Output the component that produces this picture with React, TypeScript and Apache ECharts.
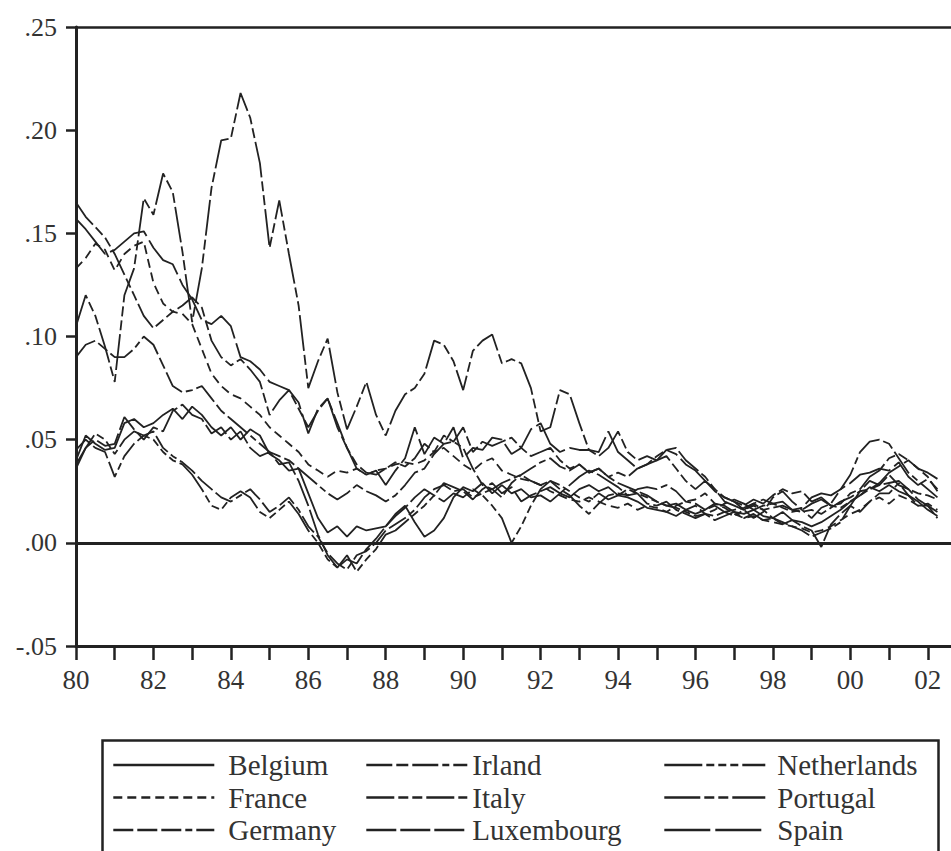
import React, { useEffect, useRef } from "react";
import * as echarts from "echarts";

// quarterly values, percent, 1980Q1 .. 2002Q2
const startYear = 1980;
const countries = ["Belgium", "France", "Germany", "Irland", "Italy", "Luxembourg", "Netherlands", "Portugal", "Spain"];

const belgium = [
  4.0, 5.2, 4.8, 4.5, 4.6, 5.8, 6.0, 5.6, 5.8, 6.2, 6.5, 6.0, 6.6, 6.2, 5.6, 5.2,
  5.6, 5.0, 5.5, 5.2, 4.3, 4.0, 3.5, 3.6, 2.4, 1.2, 0.5, 0.8, 0.3, 0.8, 0.6, 0.7,
  0.8, 1.4, 1.8, 1.0, 0.3, 0.6, 1.2, 2.2, 2.7, 2.5, 2.9, 2.4, 2.8, 2.4, 2.6, 2.2,
  2.3, 2.0, 2.4, 2.2, 2.6, 2.8, 2.5, 2.7, 2.3, 2.2, 2.0, 1.7, 1.6, 1.5, 1.3, 1.6,
  1.4, 1.6, 1.9, 1.8, 1.5, 1.4, 1.6, 1.3, 1.2, 1.5, 1.1, 1.0, 0.8, 1.0, 1.3, 1.6,
  2.0, 2.3, 2.7, 2.5, 2.8, 2.5, 2.3, 2.0, 1.6, 1.3,
];
const france = [
  13.3, 13.8, 14.5, 14.2, 13.2, 14.0, 14.4, 14.6, 12.6, 11.6, 11.2, 11.1, 10.6, 9.4, 8.2, 7.6,
  7.2, 7.0, 6.6, 6.2, 5.6, 5.2, 4.8, 4.4, 3.8, 3.5, 3.2, 3.5, 3.4, 3.6, 3.3, 3.5,
  3.6, 3.8, 3.9, 3.8, 4.0, 4.4, 4.6, 4.2, 3.8, 3.5, 3.9, 4.1, 3.5, 3.3, 3.1, 3.0,
  2.8, 2.5, 2.3, 2.1, 2.0, 2.2, 2.0, 1.8, 1.7, 1.9, 1.6, 1.8, 1.7, 1.5, 1.8, 2.0,
  2.1, 2.4, 1.9, 1.7, 1.4, 1.2, 1.3, 1.1, 1.0, 0.9, 0.8, 0.7, 0.5, 0.6, 0.8, 1.1,
  1.4, 1.6, 2.0, 2.2, 1.9, 2.3, 2.1, 1.8, 1.9, 1.6,
];
const germany = [
  4.5, 5.0, 4.6, 4.4, 3.2, 4.2, 4.8, 5.2, 5.4, 4.6, 4.2, 3.9, 3.5, 3.0, 2.6, 2.2,
  2.0, 2.3, 2.6, 2.1, 1.5, 1.8, 2.2, 1.6, 0.8, 0.3, -0.5, -1.0, -1.3, -0.6, -0.4, 0.0,
  0.6, 0.9, 1.2, 1.6, 2.2, 2.6, 2.8, 2.5, 2.6, 2.2, 2.4, 2.6, 2.2, 2.9, 3.3, 3.6,
  3.9, 4.1, 3.7, 3.5, 3.8, 3.4, 3.6, 3.2, 2.9, 2.7, 2.5, 2.3, 2.0, 1.8, 1.7, 1.5,
  1.3, 1.4, 1.3, 1.5, 1.6, 1.7, 1.9, 1.6, 1.2, 1.0, 0.8, 0.6, 0.3, 0.5, 0.7, 1.0,
  1.8, 1.5, 2.0, 2.4, 2.4, 2.9, 2.3, 1.8, 1.8, 1.2,
];
const irland = [
  9.0, 9.6, 9.8, 9.4, 9.0, 9.0, 9.4, 10.0, 9.6, 8.6, 7.6, 7.3, 7.4, 7.6, 7.0, 6.4,
  6.0, 5.6, 5.2, 4.8, 4.4, 4.2, 4.0, 3.6, 3.2, 2.8, 2.4, 2.1, 2.4, 2.8, 2.5, 2.3,
  2.0, 2.3, 2.8, 3.4, 3.6, 4.3, 4.8, 4.9, 4.6, 3.6, 2.8, 2.6, 2.9, 3.1, 3.3, 3.0,
  2.8, 3.0, 2.6, 2.3, 1.8, 1.4, 1.9, 2.3, 2.4, 2.3, 2.6, 2.7, 2.6, 2.8, 2.5, 2.0,
  1.9, 1.6, 1.8, 1.5, 1.3, 1.6, 1.2, 1.5, 2.2, 2.5, 2.0, 1.6, 1.2, 1.7, 1.9, 2.6,
  3.3, 4.4, 4.9, 5.0, 4.8, 4.1, 3.4, 3.0, 2.6, 2.2,
];
const italy = [
  16.5, 15.8, 15.3, 14.8, 14.0, 13.0, 12.0, 11.0, 10.4, 10.8, 11.2, 11.5, 11.9, 11.4, 9.8, 9.0,
  8.6, 8.9, 8.4, 7.8, 6.2, 6.9, 7.4, 6.5, 5.6, 6.4, 7.0, 5.8, 4.6, 3.8, 3.4, 3.3,
  3.6, 3.9, 3.7, 4.1, 4.8, 4.4, 5.2, 4.9, 5.6, 4.4, 4.9, 4.7, 4.9, 5.1, 4.6, 4.2,
  4.4, 4.6, 4.0, 3.6, 3.8, 3.4, 3.6, 3.2, 3.4, 3.2, 3.6, 3.8, 4.2, 4.5, 4.6, 4.0,
  3.6, 3.2, 2.6, 2.2, 2.0, 1.6, 1.8, 1.6, 1.7, 1.8, 1.6, 1.5, 1.6, 1.4, 1.7, 2.0,
  2.2, 2.5, 2.6, 2.8, 2.9, 3.0, 2.6, 2.4, 2.3, 2.1,
];
const luxembourg = [
  3.8, 4.6, 5.0, 4.7, 4.8, 6.1, 5.5, 5.0, 5.6, 5.4, 6.4, 6.7, 6.2, 6.0, 5.3, 5.6,
  5.0, 5.4, 4.6, 4.2, 4.4, 3.8, 3.9, 3.0, 1.8, 0.4, -0.6, -1.2, -0.8, -1.0, -0.3, 0.2,
  0.8, 1.3, 1.7, 2.2, 2.6, 2.3, 2.9, 2.7, 2.5, 2.1, 2.6, 2.9, 2.4, 2.7, 2.0, 2.3,
  2.5, 2.7, 2.4, 2.8, 3.2, 3.5, 3.3, 3.0, 2.7, 2.3, 2.4, 1.9, 1.8, 2.0, 1.6, 1.4,
  1.2, 1.4, 1.1, 1.3, 1.5, 1.2, 1.4, 1.1, 1.2, 0.9, 1.1, 0.8, 0.6, -0.2, 0.9, 1.4,
  1.8, 2.5, 3.0, 2.8, 3.3, 2.8, 2.6, 2.1, 1.8, 1.5,
];
const netherlands = [
  3.6, 4.6, 5.3, 5.0, 4.3, 5.0, 5.4, 5.2, 5.0, 4.4, 4.0, 3.8, 3.3, 2.6, 1.8, 1.6,
  2.2, 2.5, 2.2, 1.5, 1.2, 1.6, 2.0, 1.4, 0.6, 0.0, -0.8, -1.2, -0.6, -1.4, -0.8, -0.3,
  0.4, 0.6, 1.0, 1.4, 1.8, 2.3, 2.0, 2.4, 2.2, 2.6, 2.3, 1.8, 1.2, 0.0, 0.8, 1.8,
  2.6, 3.0, 2.8, 2.5, 2.2, 2.0, 2.4, 2.1, 2.3, 2.6, 2.4, 2.2, 2.0, 1.8, 1.9, 1.6,
  1.8, 1.4, 1.6, 1.9, 2.1, 1.9, 1.6, 1.8, 1.9, 1.7, 1.5, 1.6, 1.9, 2.1, 1.8, 1.7,
  2.0, 2.3, 2.6, 2.9, 3.4, 3.7, 4.0, 3.6, 3.2, 2.5,
];
const portugal = [
  10.5, 12.0, 11.0, 9.5, 7.8, 12.0, 13.3, 16.7, 15.9, 17.9, 17.0, 14.1, 10.7, 13.3, 17.2, 19.5,
  19.6, 21.8, 20.6, 18.4, 14.3, 16.6, 14.0, 11.5, 7.5, 8.8, 9.9, 7.3, 5.5, 6.6, 7.8, 6.2,
  5.2, 6.4, 7.2, 7.5, 8.2, 9.8, 9.6, 8.8, 7.4, 9.3, 9.8, 10.1, 8.7, 8.9, 8.7, 7.5,
  5.4, 5.6, 7.4, 7.2, 5.8, 4.5, 4.2, 4.6, 5.4, 4.4, 4.0, 4.2, 4.0, 4.2, 3.6, 3.0,
  2.6, 3.0, 2.5, 2.2, 2.0, 1.8, 2.1, 1.9, 2.3, 2.6, 2.4, 2.5, 2.0, 2.2, 1.8, 1.9,
  2.4, 2.6, 3.2, 3.5, 4.1, 4.3, 4.0, 3.6, 3.4, 3.1,
];
const spain = [
  15.7, 15.2, 14.6, 14.0, 14.2, 14.6, 15.0, 15.1, 14.3, 13.7, 13.5, 12.5, 11.8, 10.8, 10.6, 11.0,
  10.5, 9.0, 8.8, 8.4, 7.8, 7.6, 7.4, 6.8, 5.3, 6.5, 7.0, 5.6, 4.6, 3.6, 3.3, 3.5,
  2.8, 3.5, 4.1, 5.6, 4.3, 5.1, 4.8, 5.6, 4.1, 4.6, 4.5, 5.1, 5.0, 4.3, 4.6, 5.5,
  5.8, 4.8, 4.4, 4.6, 4.5, 4.5, 4.4, 5.4, 4.4, 4.0, 3.6, 3.8, 4.0, 4.5, 4.3, 3.8,
  3.5, 3.0, 2.6, 2.0, 1.8, 1.6, 1.9, 2.1, 1.9, 2.0, 1.6, 1.7, 2.2, 2.4, 2.3, 2.6,
  2.9, 3.3, 3.4, 3.6, 3.5, 3.9, 3.2, 2.8, 3.1, 2.6,
];

const seriesValues = [belgium, france, germany, irland, italy, luxembourg, netherlands, portugal, spain];
const dashPatterns: (string | number[])[] = [
  "solid",
  [9, 5],
  [20, 4, 20, 4, 20, 4, 7, 4],
  [26, 4, 12, 4, 26, 4, 7, 4],
  [28, 4, 10, 4, 10, 4],
  [30, 4],
  [38, 4, 8, 4, 8, 4, 8, 4],
  [36, 4, 10, 4, 10, 4],
  [46, 5],
];

const yMin = -0.05;
const yMax = 0.25;
const yStep = 0.05;
const xMin = 1980;
const xMax = 2002.6;
const tickYears = [1980, 1981, 1982, 1983, 1984, 1985, 1986, 1987, 1988, 1989, 1990, 1991, 1992, 1993, 1994, 1995, 1996, 1997, 1998, 1999, 2000, 2001, 2002];
const labelYears = [1980, 1982, 1984, 1986, 1988, 1990, 1992, 1994, 1996, 1998, 2000, 2002];
const legendColumns = [
  ["Belgium", "France", "Germany"],
  ["Irland", "Italy", "Luxembourg"],
  ["Netherlands", "Portugal", "Spain"],
];

const FONT = "'Liberation Serif', 'Times New Roman', serif";
const INK = "#222";

export default function App() {
  const ref = useRef<HTMLDivElement>(null);
  useEffect(() => {
    if (!ref.current) return;
    const chart = echarts.init(ref.current, undefined, { renderer: "svg" });
    const series: any[] = countries.map((name, k) => ({
      name,
      type: "line",
      symbol: "none",
      showSymbol: false,
      silent: true,
      data: seriesValues[k].map((v, i) => [startYear + i * 0.25, v / 100]),
      lineStyle: { color: INK, width: 1.8, type: dashPatterns[k] },
      itemStyle: { color: INK },
      z: 3,
    }));
    series[0].markLine = {
      silent: true,
      symbol: "none",
      label: { show: false },
      lineStyle: { color: INK, width: 3, type: "solid" },
      data: [{ yAxis: 0 }],
      z: 2,
    };
    const legendLefts = [112, 365, 663];
    const legendPads = [9, 0, 7];
    chart.setOption({
      animation: false,
      backgroundColor: "#fff",
      grid: { left: 76, top: 27, right: 0, bottom: 205, containLabel: false },
      xAxis: [
        {
          type: "value",
          min: xMin,
          max: xMax,
          interval: 1,
          axisLine: { show: true, onZero: false, lineStyle: { color: INK, width: 3 } },
          axisTick: { show: true, inside: false, length: 14, customValues: tickYears, lineStyle: { color: INK, width: 2.5 } },
          axisLabel: {
            customValues: labelYears,
            margin: 20,
            fontFamily: FONT,
            fontSize: 27,
            color: "#333",
            formatter: (v: number) => String(Math.round(v) % 100).padStart(2, "0"),
          },
          splitLine: { show: false },
        },
        {
          type: "value",
          position: "top",
          min: xMin,
          max: xMax,
          axisLine: { show: true, onZero: false, lineStyle: { color: INK, width: 2.5 } },
          axisTick: { show: false },
          axisLabel: { show: false },
          splitLine: { show: false },
        },
      ],
      yAxis: {
        type: "value",
        min: yMin,
        max: yMax,
        interval: yStep,
        axisLine: { show: true, onZero: false, lineStyle: { color: INK, width: 3 } },
        axisTick: { show: true, inside: false, length: 10, lineStyle: { color: INK, width: 2.5 } },
        axisLabel: {
          margin: 19,
          fontFamily: FONT,
          fontSize: 26,
          color: "#333",
          formatter: (v: number) => {
            const s = Math.abs(v).toFixed(2).replace(/^0/, "");
            return v < -1e-9 ? "-" + s : s;
          },
        },
        splitLine: { show: false },
      },
      legend: legendColumns.map((cols, c) => ({
        data: cols,
        orient: "vertical",
        left: legendLefts[c],
        top: 749,
        padding: 0,
        itemGap: 0.5,
        itemWidth: 101,
        itemHeight: 14,
        selectedMode: false,
        itemStyle: { color: "rgba(0,0,0,0)", borderWidth: 0, opacity: 0 },
        lineStyle: { width: 2.6 },
        textStyle: {
          fontFamily: FONT,
          fontSize: 29,
          color: "#333",
          lineHeight: 32,
          padding: [0, 0, 0, legendPads[c]],
        },
      })),
      graphic: [
        {
          type: "rect",
          left: 100,
          top: 738,
          shape: { width: 836, height: 140 },
          style: { fill: "none", stroke: INK, lineWidth: 2.5 },
          silent: true,
        },
      ],
      series,
    });
    return () => chart.dispose();
  }, []);
  return <div ref={ref} style={{ position: "absolute", left: 0, top: 0, width: 951, height: 851, background: "#fff" }} />;
}
